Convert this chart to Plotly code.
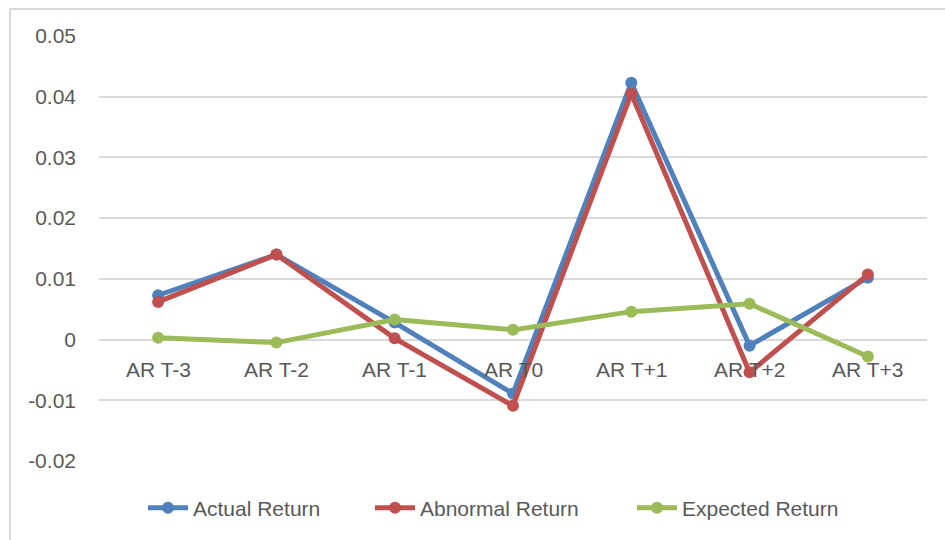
import plotly.graph_objects as go

# Event window categories
categories = ["AR T-3", "AR T-2", "AR T-1", "AR T0", "AR T+1", "AR T+2", "AR T+3"]

# Series values
actual_return = [0.0073, 0.0140, 0.0028, -0.0089, 0.0423, -0.0010, 0.0102]
abnormal_return = [0.0062, 0.0140, 0.0002, -0.0109, 0.0405, -0.0054, 0.0107]
expected_return = [0.0003, -0.0005, 0.0033, 0.0016, 0.0046, 0.0059, -0.0028]

# Value axis ticks
y_tick_values = [-0.02, -0.01, 0, 0.01, 0.02, 0.03, 0.04, 0.05]
y_tick_labels = ["-0.02", "-0.01", "0", "0.01", "0.02", "0.03", "0.04", "0.05"]

series = [
    ("Actual Return", actual_return, "#4F81BD"),
    ("Abnormal Return", abnormal_return, "#C0504D"),
    ("Expected Return", expected_return, "#9BBB59"),
]

FONT = "Liberation Sans"
FSIZE = 21
TEXT = "#595959"
GRID = "#D9D9D9"

W, H = 945, 540
ML, MR, MT, MB = 99, 18, 36, 79
PW, PH = W - ML - MR, H - MT - MB


def px_x(p):
    return (p - ML) / PW


def px_y(p):
    return (H - MB - p) / PH


# Each series gets its own legend box so the entries can be spaced freely
legend_ids = ["legend", "legend2", "legend3"]
legend_left = [143, 370, 632]

fig = go.Figure()
for (name, vals, color), lid in zip(series, legend_ids):
    fig.add_trace(go.Scatter(
        x=categories, y=vals, name=name, mode="lines+markers",
        line=dict(color=color, width=5),
        marker=dict(color=color, size=12),
        legend=lid,
    ))

# Category labels sit just under the zero line
for c in categories:
    fig.add_annotation(
        x=c, y=0, xref="x", yref="y", text=c, showarrow=False,
        yanchor="top", yshift=-16, font=dict(family=FONT, size=FSIZE, color=TEXT),
    )

# Chart frame (top and left edges)
frame = dict(color=GRID, width=2)
fig.add_shape(type="line", xref="paper", yref="paper",
              x0=px_x(10), x1=px_x(W), y0=px_y(9), y1=px_y(9), line=frame)
fig.add_shape(type="line", xref="paper", yref="paper",
              x0=px_x(10), x1=px_x(10), y0=px_y(9), y1=px_y(H), line=frame)

legend_style = dict(
    orientation="h", xanchor="left", y=px_y(508), yanchor="middle",
    font=dict(family=FONT, size=FSIZE, color=TEXT),
    itemwidth=40, bgcolor="rgba(0,0,0,0)",
)

fig.update_layout(
    width=W, height=H,
    margin=dict(l=ML, r=MR, t=MT, b=MB),
    paper_bgcolor="white", plot_bgcolor="white",
    font=dict(family=FONT, size=FSIZE, color=TEXT),
    showlegend=True,
    legend=dict(x=px_x(legend_left[0]), **legend_style),
    legend2=dict(x=px_x(legend_left[1]), **legend_style),
    legend3=dict(x=px_x(legend_left[2]), **legend_style),
    xaxis=dict(
        type="category", range=[-0.5, len(categories) - 0.5],
        showticklabels=False, showgrid=False, zeroline=False, showline=False,
    ),
    yaxis=dict(
        range=[-0.02, 0.05], tickvals=y_tick_values, ticktext=y_tick_labels,
        showgrid=True, gridcolor=GRID, gridwidth=2,
        zeroline=True, zerolinecolor=GRID, zerolinewidth=2,
        showline=False, ticks="", ticklabelstandoff=22,
        tickfont=dict(family=FONT, size=FSIZE, color=TEXT),
    ),
)

fig.write_html("out.html")
